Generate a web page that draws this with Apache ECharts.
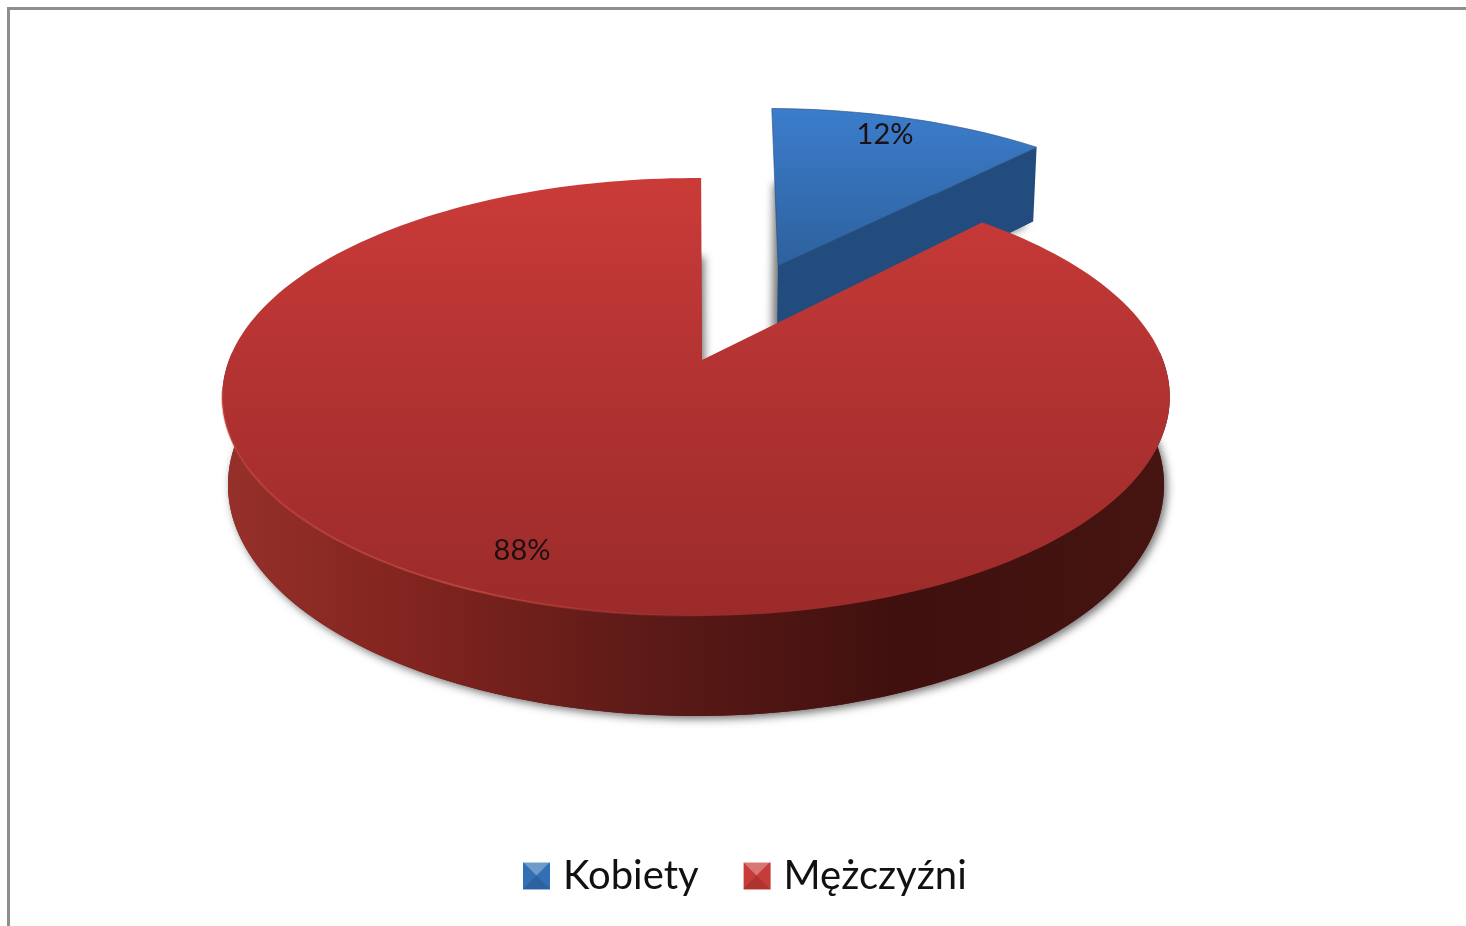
<!DOCTYPE html>
<html>
<head>
<meta charset="utf-8">
<title>Kobiety / Mężczyźni</title>
<style>
html, body { margin: 0; padding: 0; background: #fff; }
#chart { width: 1466px; height: 926px; }
</style>
<script src="https://cdn.jsdelivr.net/npm/echarts@6/dist/echarts.min.js"></script>
</head>
<body>
<div id="chart"></div>
<script>
// chart values
var categories = ["Kobiety", "Mężczyźni"];
var values = [12, 88];

// camera of the fake 3D pie, measured on the picture
var cam = {
    x0: 696, y0: 360,     // projected centre of the disc
    a: 467, b: 212.7,     // horizontal and vertical radius
    k: 0.169,             // perspective along the depth axis
    drop: 87.4, shrink: 0.012,  // thickness of the disc
    start: 0.75,          // rotation of the first slice, degrees
    warp: 0.5             // small correction of the angles, degrees
};
// explosion of each slice in disc units, label place in pixels
var explode = [[0.19, 0.478], [0.0128, 0]];
var labelPos = [[885, 135], [522, 551]];

var total = values.reduce(function(s, v) { return s + v; }, 0);

function project(X, Y, h) {
    var w = 1 + cam.k * Y + cam.shrink * h;
    return [cam.x0 + cam.a * X / w, cam.y0 - (cam.b * Y - cam.drop * h) / w];
}

// points of the rim between two angles (degrees clockwise from the back)
function rim(from, to, h, off) {
    var pts = [];
    var n = Math.max(2, Math.ceil(Math.abs(to - from) / 1.5));
    for (var i = 0; i <= n; i++) {
        var deg = from + (to - from) * i / n;
        var t = (deg - cam.warp * Math.sin(2 * deg * Math.PI / 180)) * Math.PI / 180;
        pts.push(project(off[0] + Math.sin(t), off[1] + Math.cos(t), h));
    }
    return pts;
}

function sliceAngles(index) {
    var before = 0;
    for (var i = 0; i < index; i++) before += values[i];
    var from = cam.start + before / total * 360;
    return [from, from + values[index] / total * 360];
}

function vertical(stops) {
    return new echarts.graphic.LinearGradient(0, 0, 0, 1, stops);
}
function horizontal(stops) {
    return new echarts.graphic.LinearGradient(0, 0, 1, 0, stops);
}

var redTop = vertical([
    { offset: 0, color: "#ca3b38" },
    { offset: 0.5, color: "#b03231" },
    { offset: 1, color: "#9b2b2a" }
]);
var redSide = horizontal([
    { offset: 0, color: "#96302a" },
    { offset: 0.2, color: "#82241f" },
    { offset: 0.45, color: "#5c1a17" },
    { offset: 0.72, color: "#3f100e" },
    { offset: 1, color: "#461512" }
]);
var blueTop = vertical([
    { offset: 0, color: "#3b7dcc" },
    { offset: 1, color: "#2e619d" }
]);
var blueSide = "#234c7e";

function poly(points, style, z2) {
    return { type: "polygon", z2: z2, shape: { points: points }, style: style };
}

function shadowStyle(fill, dx) {
    return {
        fill: fill,
        shadowBlur: 9,
        shadowColor: "rgba(0,0,0,0.55)",
        shadowOffsetX: dx,
        shadowOffsetY: 3
    };
}

function renderSlice(index, api) {
    var ang = sliceAngles(index);
    var off = explode[index];
    var apexTop = project(off[0], off[1], 0);
    var apexBottom = project(off[0], off[1], 1);
    var value = api.value(0);
    var children = [];
    if (index === 0) {
        // dark base, its shadow falls on the background
        children.push(poly([apexBottom].concat(rim(ang[0] + 1.2, ang[1], 1, off)), shadowStyle(blueSide, -5), 1));
        var a = rim(ang[1], ang[1], 0, off)[0];
        var b = rim(ang[1], ang[1], 1, off)[0];
        children.push(poly([apexTop, a, b, apexBottom], { fill: blueSide }, 2));
        children.push(poly([apexTop].concat(rim(ang[0], ang[1], 0, off)), {
            fill: blueTop, stroke: "#234c7e", lineWidth: 0.6
        }, 3));
    } else {
        var rimOff = [0, 0];
        children.push(poly([apexBottom].concat(rim(ang[0], ang[1], 1, rimOff)), shadowStyle("#5c1a17", 3), 1));
        children.push(poly(rim(88, 272, 0, rimOff).concat(rim(88, 272, 1, rimOff).reverse()), { fill: redSide }, 2));
        children.push(poly([apexTop].concat(rim(ang[0], ang[1], 0, rimOff)), { fill: redTop }, 3));
        children.push({
            type: "polyline",
            z2: 4,
            shape: { points: rim(178, 262, 0, rimOff) },
            style: {
                fill: null,
                lineWidth: 2,
                stroke: horizontal([
                    { offset: 0, color: "rgba(214,84,76,0.45)" },
                    { offset: 0.5, color: "rgba(214,84,76,0.6)" },
                    { offset: 1, color: "rgba(214,84,76,0)" }
                ])
            }
        });
    }
    children.push({
        type: "text",
        z2: 5,
        style: {
            x: labelPos[index][0],
            y: labelPos[index][1],
            text: Math.round(value / total * 100) + "%",
            align: "center",
            verticalAlign: "middle",
            fontFamily: "Lato",
            fontSize: 29,
            fill: "#1c1010"
        }
    });
    return { type: "group", children: children };
}

function sliceSeries(index) {
    return {
        name: categories[index],
        type: "custom",
        coordinateSystem: "none",
        z: 2 + index,
        silent: true,
        data: [[values[index]]],
        renderItem: function(params, api) {
            return renderSlice(index, api);
        }
    };
}

// bevel of the legend keys
function keyBevel(x, y, size) {
    var c = [x + size / 2, y + size / 2];
    return [
        { type: "polygon", z: 10, shape: { points: [[x, y], [x + size, y], c] }, style: { fill: "rgba(255,255,255,0.3)" } },
        { type: "polygon", z: 10, shape: { points: [[x, y + size], [x + size, y + size], c] }, style: { fill: "rgba(0,0,0,0.12)" } }
    ];
}

var chart = echarts.init(document.getElementById("chart"), null, { renderer: "canvas" });
chart.setOption({
    animation: false,
    backgroundColor: "#fff",
    legend: {
        left: 523,
        top: 856,
        padding: 0,
        itemWidth: 27,
        itemHeight: 27,
        itemGap: 45,
        textStyle: { fontFamily: "Lato", fontSize: 40, color: "#111", padding: [0, 0, 0, 8] },
        data: [
            { name: categories[0], icon: "rect", itemStyle: { color: "#3270b5" } },
            { name: categories[1], icon: "rect", itemStyle: { color: "#c63c38" } }
        ]
    },
    graphic: [
        {
            type: "polyline",
            z: 1,
            shape: { points: [[8.5, 926], [8.5, 8.5], [1466, 8.5]] },
            style: { fill: null, stroke: "#8e8e8e", lineWidth: 3 }
        }
    ].concat(keyBevel(523, 862, 27), keyBevel(743, 862, 27)),
    series: [sliceSeries(0), sliceSeries(1)]
});
</script>
</body>
</html>
